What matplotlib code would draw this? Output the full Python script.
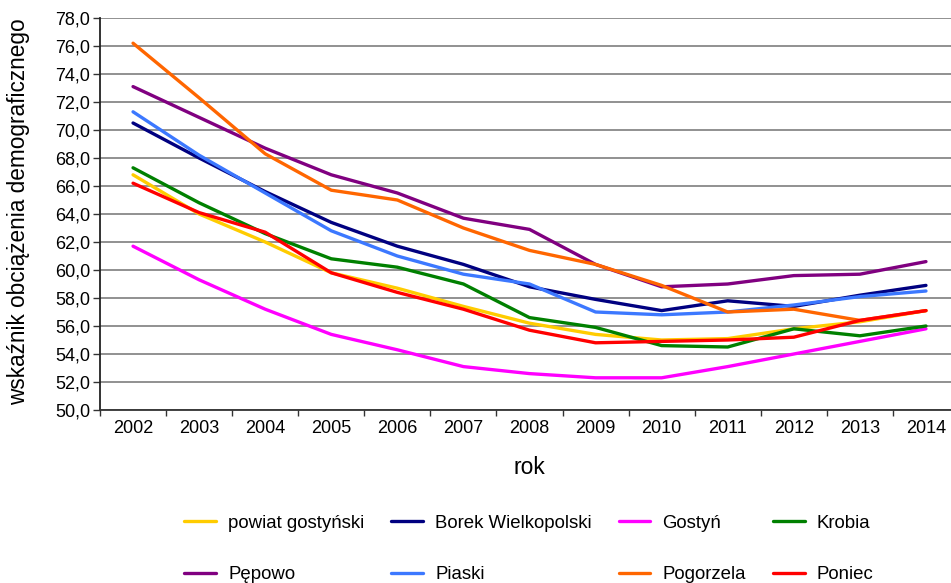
import matplotlib.pyplot as plt
from matplotlib.ticker import FuncFormatter, MultipleLocator, FixedLocator

plt.rcParams['font.family'] = ['Liberation Sans', 'DejaVu Sans']

years = [2002, 2003, 2004, 2005, 2006, 2007, 2008, 2009, 2010, 2011, 2012, 2013, 2014]

powiat = [66.8, 64.0, 62.0, 59.8, 58.7, 57.4, 56.2, 55.4, 55.0, 55.1, 55.8, 56.3, 57.1]
borek = [70.5, 68.0, 65.6, 63.4, 61.7, 60.4, 58.8, 57.9, 57.1, 57.8, 57.4, 58.2, 58.9]
gostyn = [61.7, 59.3, 57.2, 55.4, 54.3, 53.1, 52.6, 52.3, 52.3, 53.1, 54.0, 54.9, 55.8]
krobia = [67.3, 64.8, 62.6, 60.8, 60.2, 59.0, 56.6, 55.9, 54.6, 54.5, 55.8, 55.3, 56.0]
pepowo = [73.1, 70.9, 68.7, 66.8, 65.5, 63.7, 62.9, 60.4, 58.8, 59.0, 59.6, 59.7, 60.6]
piaski = [71.3, 68.2, 65.5, 62.8, 61.0, 59.7, 59.0, 57.0, 56.8, 57.0, 57.5, 58.1, 58.5]
pogorzela = [76.2, 72.3, 68.3, 65.7, 65.0, 63.0, 61.4, 60.4, 58.9, 57.0, 57.2, 56.4, 57.1]
poniec = [66.2, 64.1, 62.7, 59.8, 58.4, 57.2, 55.7, 54.8, 54.9, 55.0, 55.2, 56.4, 57.1]

labels = ['powiat gostyński', 'Borek Wielkopolski', 'Gostyń', 'Krobia',
          'Pępowo', 'Piaski', 'Pogorzela', 'Poniec']
series = [powiat, borek, gostyn, krobia, pepowo, piaski, pogorzela, poniec]
colors = ['#FFCC00', '#000080', '#FF00FF', '#008000',
          '#800080', '#3C78FF', '#FF6600', '#FF0000']

fig = plt.figure(figsize=(9.51, 5.83), dpi=100)
ax = fig.add_axes([100 / 951, 1 - 410 / 583, 859 / 951, 392 / 583])

x = list(range(len(years)))
handles = []
for vals, lab, col in zip(series, labels, colors):
    h, = ax.plot(x, vals, color=col, lw=2.4, label=lab, solid_joinstyle='round',
                 solid_capstyle='round', zorder=3)
    handles.append(h)

ax.set_xlim(-0.5, len(years) - 0.5)
ax.set_ylim(50, 78)
ax.yaxis.set_major_locator(MultipleLocator(2))
ax.yaxis.set_major_formatter(FuncFormatter(lambda v, p: f'{v:.1f}'.replace('.', ',')))
ax.grid(axis='y', color='#888888', lw=1.3, zorder=1)

ax.set_xticks(x)
ax.set_xticklabels([str(y) for y in years])
ax.xaxis.set_minor_locator(FixedLocator([i - 0.5 for i in range(len(years) + 1)]))
ax.tick_params(axis='x', which='major', length=0, pad=7, labelsize=13)
ax.tick_params(axis='x', which='minor', length=4, width=1, color='#333333')
ax.tick_params(axis='y', length=5, width=1, color='#333333', labelsize=13, pad=2)

for s in ['top', 'right']:
    ax.spines[s].set_visible(False)
ax.spines['left'].set_color('#222222')
ax.spines['left'].set_linewidth(1.3)
ax.spines['bottom'].set_color('#333333')
ax.spines['bottom'].set_linewidth(1.3)

# y label sits at the very left edge, x label centred under the plot area
ax.set_ylabel('wskaźnik obciążenia demograficznego', fontsize=16.3)
ax.yaxis.set_label_coords(-70 / 859, (410 - 212) / 392)
ax.set_xlabel('rok', fontsize=16.5)
ax.xaxis.set_label_coords((529 - 100) / 859, -(468 - 410) / 392)
ax.xaxis.label.set_va('center')

# legend laid out column by column to keep the two rows as in the original
order = [0, 4, 1, 5, 2, 6, 3, 7]
fig.legend([handles[i] for i in order], [labels[i] for i in order],
           ncol=4, loc='center', bbox_to_anchor=(529 / 951, 1 - 549 / 583),
           frameon=False, fontsize=13.4, handlelength=1.7, handletextpad=0.65,
           columnspacing=1.45, labelspacing=1.85)

fig.savefig('out.png', dpi=100)
